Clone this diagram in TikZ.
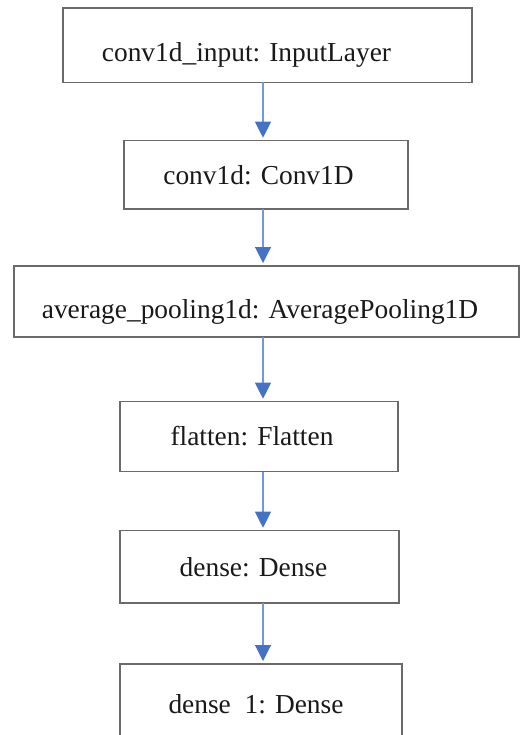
\documentclass[tikz,border=0pt]{standalone}
\usepackage{fontspec}
\setmainfont{Liberation Serif}
\newfontfamily\layerfont{Liberation Serif}
\usetikzlibrary{arrows.meta}
\definecolor{boxline}{HTML}{6A6A6A}
\definecolor{arrline}{HTML}{6F98DE}
\definecolor{arrhead}{HTML}{4472C4}
\begin{document}
\begin{tikzpicture}[x=1pt,y=-1pt,
  layerbox/.style={draw=boxline,line width=1.1pt,inner sep=0pt,outer sep=0pt,fill=white},
  layertext/.style={inner sep=0pt,anchor=base,text=black!90,font=\layerfont\fontsize{27.4}{30}\selectfont},
  flowarrow/.style={draw=arrline,line width=1.1pt,shorten >=3pt,
    -{Triangle[width=16pt,length=16pt,fill=arrhead,color=arrhead]}}]
\useasboundingbox (0,0) rectangle (520,735);
\coordinate (ax) at (263,0);
\node[layerbox,minimum width=409pt,minimum height=74.5pt] (b1) at (267.5,45.25) {};
\node[layerbox,minimum width=284pt,minimum height=68.3pt] (b2) at (266,174.85) {};
\node[layerbox,minimum width=505pt,minimum height=71pt] (b3) at (266.5,301.5) {};
\node[layerbox,minimum width=278pt,minimum height=70pt] (b4) at (259,436.7) {};
\node[layerbox,minimum width=279pt,minimum height=72.3pt] (b5) at (259.5,566.85) {};
\node[layerbox,minimum width=282pt,minimum height=100pt] (b6) at (261,714) {};
\node[layertext] (t1) at (246.5,62) {conv1d\_input: InputLayer};
\node[layertext] (t2) at (258.5,185) {conv1d: Conv1D};
\node[layertext] (t3) at (260,318) {average\_pooling1d: AveragePooling1D};
\node[layertext] (t4) at (252,445) {flatten: Flatten};
\node[layertext] (t5) at (253.5,576.7) {dense: Dense};
\node[layertext] (t6) at (256,713) {dense\ \ 1: Dense};
\draw[flowarrow] (b1.south -| ax) -- (b2.north -| ax);
\draw[flowarrow] (b2.south -| ax) -- (b3.north -| ax);
\draw[flowarrow] (b3.south -| ax) -- (b4.north -| ax);
\draw[flowarrow] (b4.south -| ax) -- (b5.north -| ax);
\draw[flowarrow] (b5.south -| ax) -- (b6.north -| ax);
\end{tikzpicture}
\end{document}
